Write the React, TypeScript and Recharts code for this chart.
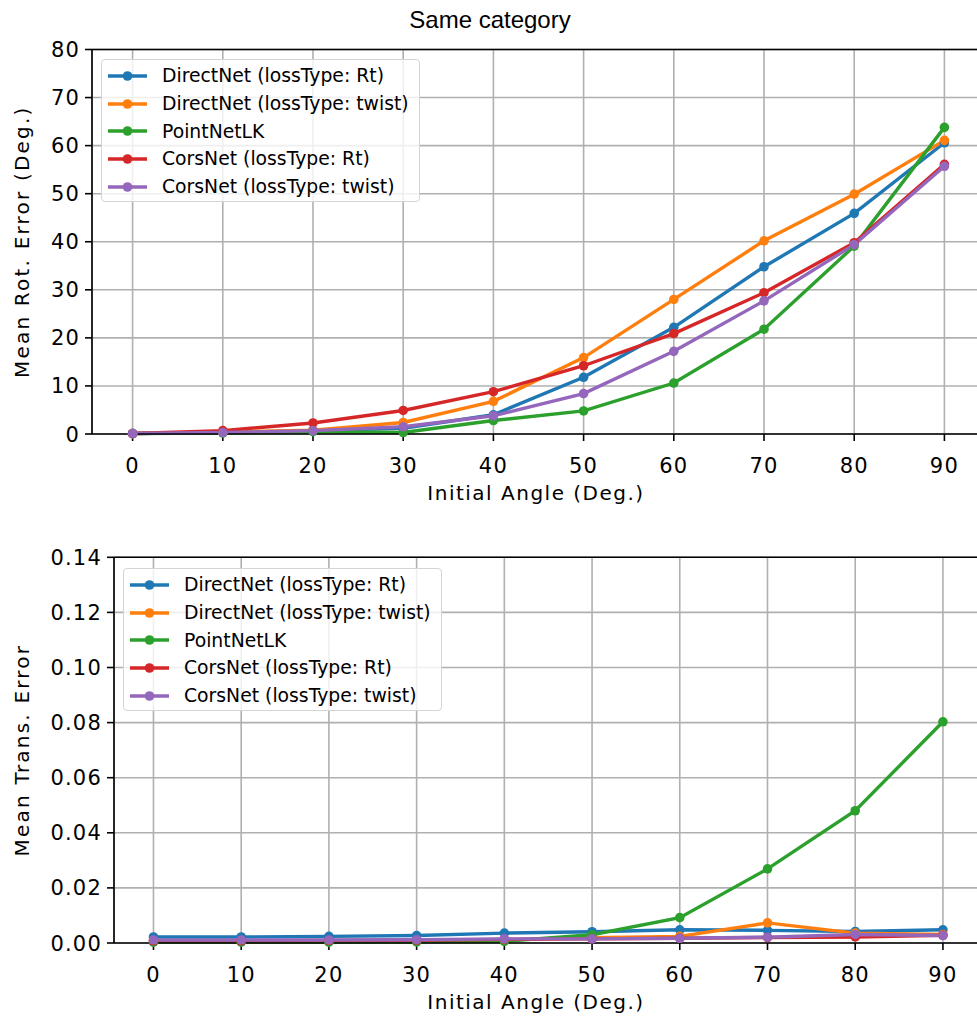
import React from 'react';
import {
  LineChart,
  Line,
  XAxis,
  YAxis,
  CartesianGrid,
  ReferenceLine,
} from 'recharts';

const angles = [0, 10, 20, 30, 40, 50, 60, 70, 80, 90];

const seriesNames = [
  'DirectNet (lossType: Rt)',
  'DirectNet (lossType: twist)',
  'PointNetLK',
  'CorsNet (lossType: Rt)',
  'CorsNet (lossType: twist)',
];
const colors = ['#1f77b4', '#ff7f0e', '#2ca02c', '#d62728', '#9467bd'];

// mean rotation error (deg)
const rotDirectRt = [0.1, 0.3, 0.7, 1.2, 4.0, 11.8, 22.2, 34.8, 45.9, 60.6];
const rotDirectTwist = [0.1, 0.4, 0.8, 2.4, 6.8, 15.9, 28.0, 40.2, 49.9, 61.1];
const rotPointNetLK = [0.1, 0.2, 0.5, 0.3, 2.8, 4.8, 10.6, 21.8, 39.1, 63.8];
const rotCorsRt = [0.1, 0.7, 2.3, 4.9, 8.8, 14.2, 20.9, 29.4, 39.8, 56.1];
const rotCorsTwist = [0.1, 0.3, 0.7, 1.5, 3.8, 8.4, 17.2, 27.7, 39.4, 55.7];

// mean translation error
const transDirectRt = [0.0022, 0.0022, 0.0024, 0.0027, 0.0036, 0.0041, 0.0048, 0.0046, 0.0042, 0.0048];
const transDirectTwist = [0.0008, 0.0008, 0.0008, 0.0008, 0.0012, 0.0019, 0.0024, 0.0073, 0.0036, 0.0031];
const transPointNetLK = [0.0003, 0.0003, 0.0003, 0.0004, 0.0006, 0.003, 0.0092, 0.0269, 0.048, 0.0803];
const transCorsRt = [0.0008, 0.0008, 0.0009, 0.001, 0.0013, 0.0015, 0.0017, 0.002, 0.0022, 0.0028];
const transCorsTwist = [0.0011, 0.0011, 0.0011, 0.0012, 0.0015, 0.0015, 0.0017, 0.0021, 0.0031, 0.0027];

const xTicks = [0, 10, 20, 30, 40, 50, 60, 70, 80, 90];
const rotTicks = [0, 10, 20, 30, 40, 50, 60, 70, 80];
const transTicks = [0, 0.02, 0.04, 0.06, 0.08, 0.1, 0.12, 0.14];

const buildRows = (series: number[][]) =>
  angles.map((a, i) => {
    const row: any = { angle: a };
    series.forEach((s, k) => {
      row['s' + k] = s[i];
    });
    return row;
  });

const rotData = buildRows([rotDirectRt, rotDirectTwist, rotPointNetLK, rotCorsRt, rotCorsTwist]);
const transData = buildRows([transDirectRt, transDirectTwist, transPointNetLK, transCorsRt, transCorsTwist]);

const FONT = '"DejaVu Sans", sans-serif';

const XTick = (props: any) => {
  const { x, y, payload } = props;
  return (
    <text x={x} y={y + 30} textAnchor="middle" fontFamily={FONT} fontSize={21} letterSpacing={1.2} fill="#000">
      {payload.value}
    </text>
  );
};

const makeYTick = (fmt: (v: number) => string) => (props: any) => {
  const { x, y, payload } = props;
  return (
    <text x={x - 3} y={y + 7.5} textAnchor="end" fontFamily={FONT} fontSize={21} letterSpacing={1.2} fill="#000">
      {fmt(payload.value)}
    </text>
  );
};

const LegendBox = ({ left, top }: { left: number; top: number }) => (
  <div
    style={{
      position: 'absolute',
      left,
      top,
      width: 319,
      height: 143,
      boxSizing: 'border-box',
      border: '1px solid #d4d4d4',
      borderRadius: 4,
      background: 'rgba(255,255,255,0.8)',
      paddingTop: 2,
    }}
  >
    {seriesNames.map((name, k) => (
      <div key={name} style={{ height: 27.7, display: 'flex', alignItems: 'center' }}>
        <svg width={60} height={20} style={{ flex: 'none' }}>
          <line x1={6} y1={10} x2={45} y2={10} stroke={colors[k]} strokeWidth={3.4} />
          <circle cx={25.5} cy={10} r={4.8} fill={colors[k]} />
        </svg>
        <span style={{ fontFamily: FONT, fontSize: 18.8, color: '#000', whiteSpace: 'nowrap' }}>{name}</span>
      </div>
    ))}
  </div>
);

type PanelProps = {
  data: any[];
  top: number;
  height: number;
  plotTop: number;
  plotLeft: number;
  rightMargin: number;
  yMax: number;
  yTicks: number[];
  yFmt: (v: number) => string;
  yLabel: string;
  legendPos: { left: number; top: number };
};

function Panel(p: PanelProps) {
  const YTick = makeYTick(p.yFmt);
  return (
    <div style={{ position: 'absolute', left: 0, top: p.top, width: 1000, height: p.height }}>
      <LineChart
        width={1000}
        height={p.height}
        data={p.data}
        margin={{ top: p.plotTop, right: p.rightMargin, bottom: 0, left: 0 }}
      >
        <CartesianGrid stroke="#b0b0b0" strokeWidth={1.6} />
        <XAxis
          dataKey="angle"
          type="number"
          domain={[-4.5, 94.5]}
          ticks={xTicks}
          allowDataOverflow
          height={76}
          tickSize={7}
          axisLine={{ stroke: '#000', strokeWidth: 1.6 }}
          tickLine={{ stroke: '#000', strokeWidth: 1.6 }}
          tick={<XTick />}
          label={(lp: any) => {
            const vb = lp.viewBox;
            return (
              <text
                x={536}
                y={vb.y + 66}
                textAnchor="middle"
                fontFamily={FONT}
                fontSize={20}
                letterSpacing={1.5}
                fill="#000"
              >
                Initial Angle (Deg.)
              </text>
            );
          }}
        />
        <YAxis
          type="number"
          domain={[0, p.yMax]}
          ticks={p.yTicks}
          width={p.plotLeft}
          tickSize={7}
          axisLine={{ stroke: '#000', strokeWidth: 1.6 }}
          tickLine={{ stroke: '#000', strokeWidth: 1.6 }}
          tick={<YTick />}
          label={(lp: any) => {
            const vb = lp.viewBox;
            const cy = vb.y + vb.height / 2;
            return (
              <text
                x={22}
                y={cy}
                transform={`rotate(-90, 22, ${cy})`}
                textAnchor="middle"
                dominantBaseline="central"
                fontFamily={FONT}
                fontSize={20}
                letterSpacing={2.2}
                fill="#000"
              >
                {p.yLabel}
              </text>
            );
          }}
        />
        <ReferenceLine y={p.yMax} stroke="#000" strokeWidth={1.6} />
        {seriesNames.map((name, k) => (
          <Line
            key={name}
            name={name}
            dataKey={'s' + k}
            stroke={colors[k]}
            strokeWidth={3.4}
            dot={{ r: 4.8, fill: colors[k], stroke: colors[k], strokeWidth: 0 }}
            activeDot={false}
            isAnimationActive={false}
          />
        ))}
      </LineChart>
      <LegendBox left={p.legendPos.left} top={p.legendPos.top} />
    </div>
  );
}

export default function App() {
  return (
    <div
      style={{
        position: 'absolute',
        left: 0,
        top: 0,
        width: 977,
        height: 1019,
        overflow: 'hidden',
        background: '#fff',
      }}
    >
      <Panel
        data={rotData}
        top={0}
        height={510}
        plotTop={49.5}
        plotLeft={92}
        rightMargin={15}
        yMax={80}
        yTicks={rotTicks}
        yFmt={(v) => String(v)}
        yLabel="Mean Rot. Error (Deg.)"
        legendPos={{ left: 101, top: 59 }}
      />
      <Panel
        data={transData}
        top={520}
        height={499}
        plotTop={37.3}
        plotLeft={114}
        rightMargin={17.6}
        yMax={0.14}
        yTicks={transTicks}
        yFmt={(v) => v.toFixed(2)}
        yLabel="Mean Trans. Error"
        legendPos={{ left: 123, top: 48 }}
      />
      <div
        style={{
          position: 'absolute',
          left: 0,
          width: 980,
          top: 6,
          textAlign: 'center',
          fontFamily: '"Liberation Sans", Arial, sans-serif',
          fontSize: 24,
          color: '#000',
        }}
      >
        Same category
      </div>
    </div>
  );
}
